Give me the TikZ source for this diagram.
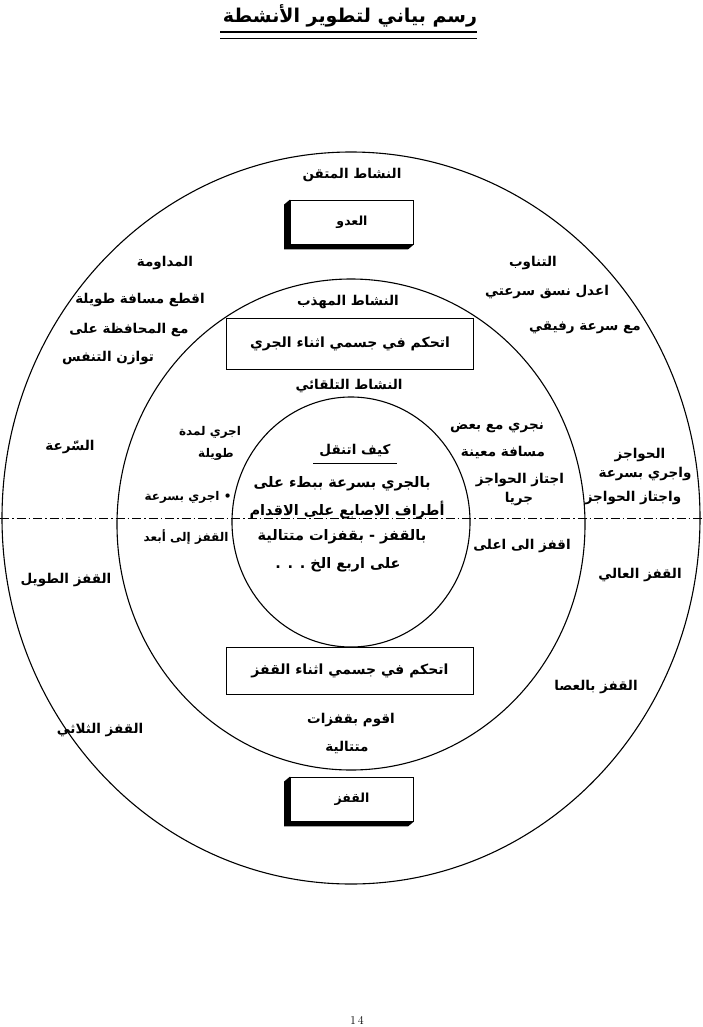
\documentclass[tikz,border=0pt]{standalone}
\usepackage{fontspec}
\usetikzlibrary{positioning}
\newfontfamily\arabicfont[Script=Arabic]{DejaVu Sans}
\TeXXeTstate=1
\newcommand{\artxt}[1]{{\arabicfont\bfseries\beginR #1\endR}}
\tikzset{
  lbl/.style={inner sep=1pt, font=\fontsize{13.5}{15}\selectfont},
  minor/.style={inner sep=1pt, font=\fontsize{12}{14}\selectfont},
  core/.style={inner sep=1pt, font=\fontsize{14.5}{16}\selectfont},
  ring/.style={line width=1.1pt},
  framed/.style={draw, line width=0.9pt, inner sep=0pt, minimum width=247pt, minimum height=51pt, font=\fontsize{14}{16}\selectfont},
  solid box/.style={draw, fill=white, line width=0.9pt, inner sep=0pt, minimum width=123pt, minimum height=44pt, font=\fontsize{12.5}{14}\selectfont},
  axis/.style={line width=0.8pt, dash pattern=on 9pt off 3pt on 1.5pt off 3pt}
}
\begin{document}
\begin{tikzpicture}[x=1pt,y=-1pt]
  \useasboundingbox (0,0) rectangle (702,1027);

  % title
  \node[inner sep=0pt, font=\fontsize{19}{22}\selectfont] (title) at (350,16) {\artxt{رسم بياني لتطوير الأنشطة}};
  \coordinate (ulA) at (220,32);
  \coordinate (ulB) at (477,32);
  \coordinate (ulC) at (220,38);
  \coordinate (ulD) at (477,38);
  \draw[line width=1.3pt] (ulA) -- (ulB);
  \draw[line width=0.7pt] (ulC) -- (ulD);

  % rings
  \coordinate (mid) at (351,518);
  \draw[ring] (mid) ellipse [x radius=349, y radius=366];
  \draw[ring] (351,524.5) ellipse [x radius=234, y radius=245.5];
  \draw[ring] (351,522) ellipse [x radius=119, y radius=125];

  \coordinate (axisL) at (0,518);
  \coordinate (axisR) at (702,518);
  \draw[axis] (axisL) -- (axisR);

  % outer ring
  \node[lbl] (expert) at (352,175) {\artxt{النشاط المتقن}};
  \node[solid box] (run) at (352,222) {\artxt{العدو}};
  \fill (run.north west) -- ++(-6,5) -- ([shift={(-6,5)}]run.south west) -- ([shift={(-6,5)}]run.south east) -- (run.south east) -- (run.south west) -- cycle;

  \node[lbl] (endur1) at (165,263) {\artxt{المداومة}};
  \node[lbl] (endur2) at (140,300) {\artxt{اقطع مسافة طويلة}};
  \node[lbl] (endur3) at (129,330) {\artxt{مع المحافظة على}};
  \node[lbl] (endur4) at (108,358) {\artxt{توازن التنفس}};

  \node[lbl] (relay1) at (533,263) {\artxt{التناوب}};
  \node[lbl] (relay2) at (547,292) {\artxt{اعدل نسق سرعتي}};
  \node[lbl] (relay3) at (585,328) {\artxt{مع سرعة رفيقي}};

  \node[lbl] (speed) at (70,447) {\artxt{السّرعة}};
  \node[lbl] (hurd1) at (640,455) {\artxt{الحواجز}};
  \node[lbl] (hurd2) at (645,474) {\artxt{واجري بسرعة}};
  \node[lbl] (hurd3) at (633,498) {\artxt{واجتاز الحواجز}};

  \node[lbl] (longj) at (66,580) {\artxt{القفز الطويل}};
  \node[lbl] (highj) at (640,575) {\artxt{القفز العالي}};
  \node[lbl] (polej) at (596,687) {\artxt{القفز بالعصا}};
  \node[lbl] (tripj) at (100,730) {\artxt{القفز الثلاثي}};

  \node[solid box] (jump) at (352,799) {\artxt{القفز}};
  \fill (jump.north west) -- ++(-6,5) -- ([shift={(-6,5)}]jump.south west) -- ([shift={(-6,5)}]jump.south east) -- (jump.south east) -- (jump.south west) -- cycle;

  % middle ring
  \node[lbl] (refined) at (348,302) {\artxt{النشاط المهذب}};
  \node[framed] (ctlrun) at (350,344) {\artxt{اتحكم في جسمي اثناء الجري}};
  \node[lbl] (spont) at (349,386) {\artxt{النشاط التلقائي}};

  \node[minor] (left1) at (210,432) {\artxt{اجري لمدة}};
  \node[minor] (left2) at (216,454) {\artxt{طويلة}};
  \node[minor] (left3) at (188,497) {\artxt{• اجري بسرعة}};
  \node[minor] (left4) at (186,537) {\artxt{القفز إلى أبعد}};

  \node[lbl] (right1) at (497,428) {\artxt{نجري مع بعض}};
  \node[lbl] (right2) at (503,452) {\artxt{مسافة معينة}};
  \node[lbl] (right3) at (520,480) {\artxt{اجتاز الحواجز}};
  \node[lbl] (right4) at (519,499) {\artxt{جريا}};
  \node[lbl] (right5) at (522,546) {\artxt{اقفز الى اعلى}};

  \node[framed, minimum height=47pt] (ctljump) at (350,671) {\artxt{اتحكم في جسمي اثناء القفز}};
  \node[lbl] (seq1) at (351,720) {\artxt{اقوم بقفزات}};
  \node[lbl] (seq2) at (347,747) {\artxt{متتالية}};

  % inner ring
  \node[lbl] (how) at (355,451) {\artxt{كيف اتنقل}};
  \coordinate (howL) at (313,463);
  \coordinate (howR) at (397,463);
  \draw[line width=0.8pt] (howL) -- (howR);
  \node[core] (in1) at (342,484) {\artxt{بالجري بسرعة ببطء على}};
  \node[core] (in2) at (347,510) {\artxt{أطراف الاصابع على الاقدام}};
  \node[core] (in3) at (342,537) {\artxt{بالقفز - بقفزات متتالية}};
  \node[core] (in4) at (338,565) {\artxt{على اربع الخ . . .}};

  \node[inner sep=0pt, font=\fontsize{12}{13}\selectfont] (page) at (357,1020) {1\,4};
\end{tikzpicture}
\end{document}
